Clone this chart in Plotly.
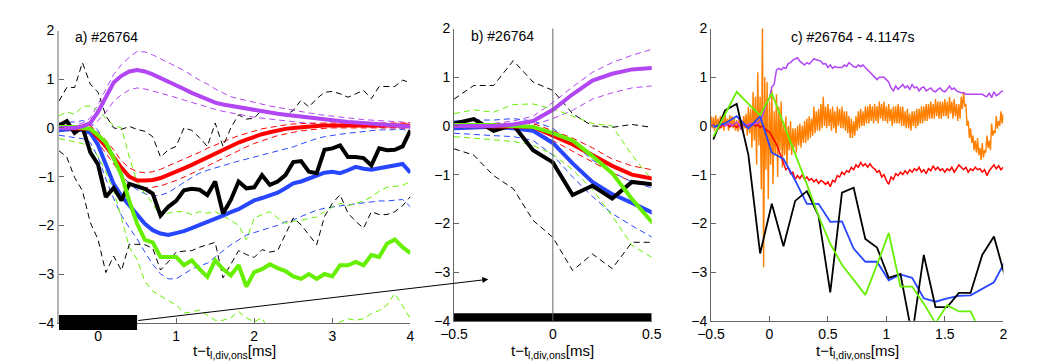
import numpy as np
import plotly.graph_objects as go

# ---------------- data ----------------
# panels a) and b): averaged signals, 0.1 ms sampling
t_a = np.round(np.arange(-0.5, 4.0001, 0.1), 2)

purple_mean = [0.0, 0.0, 0.0, 0.03, 0.1, 0.33, 0.65, 0.93, 1.07, 1.16,
               1.19, 1.16, 1.1, 1.03, 0.96, 0.88, 0.8, 0.72, 0.65, 0.58,
               0.52, 0.48, 0.45, 0.42, 0.39, 0.36, 0.34, 0.31, 0.29, 0.27,
               0.25, 0.23, 0.21, 0.19, 0.17, 0.15, 0.13, 0.12, 0.11, 0.1,
               0.09, 0.08, 0.07, 0.06, 0.05, 0.03]
purple_hi = [0.05, 0.05, 0.05, 0.1, 0.2, 0.48, 0.8, 1.1, 1.3, 1.45,
             1.57, 1.56, 1.5, 1.42, 1.35, 1.27, 1.18, 1.08, 0.98, 0.9,
             0.8, 0.72, 0.64, 0.6, 0.56, 0.52, 0.49, 0.45, 0.42, 0.39,
             0.36, 0.33, 0.3, 0.28, 0.26, 0.24, 0.22, 0.2, 0.18, 0.17,
             0.16, 0.15, 0.14, 0.13, 0.12, 0.11]
purple_lo = [-0.05, -0.05, -0.05, -0.02, 0.02, 0.15, 0.32, 0.55, 0.68, 0.78,
             0.82, 0.8, 0.76, 0.72, 0.67, 0.62, 0.57, 0.52, 0.47, 0.42,
             0.38, 0.34, 0.31, 0.27, 0.25, 0.22, 0.2, 0.18, 0.16, 0.14,
             0.12, 0.11, 0.1, 0.08, 0.07, 0.06, 0.05, 0.04, 0.03, 0.02,
             0.02, 0.01, 0.0, 0.0, -0.01, -0.02]

red_mean = [0.0, 0.0, 0.0, 0.0, -0.02, -0.2, -0.38, -0.6, -0.82, -1.0,
            -1.08, -1.08, -1.07, -1.03, -0.97, -0.9, -0.83, -0.76, -0.68, -0.6,
            -0.52, -0.45, -0.37, -0.3, -0.24, -0.18, -0.13, -0.09, -0.05, -0.02,
            0.0, 0.02, 0.03, 0.04, 0.05, 0.05, 0.05, 0.05, 0.05, 0.05,
            0.05, 0.05, 0.05, 0.05, 0.05, 0.05]
red_hi = [0.05, 0.05, 0.05, 0.05, 0.05, -0.1, -0.25, -0.45, -0.68, -0.82,
          -0.9, -0.92, -0.9, -0.85, -0.78, -0.72, -0.65, -0.57, -0.5, -0.42,
          -0.35, -0.28, -0.22, -0.16, -0.11, -0.06, -0.02, 0.01, 0.04, 0.06,
          0.08, 0.09, 0.1, 0.1, 0.1, 0.1, 0.1, 0.1, 0.1, 0.1,
          0.1, 0.1, 0.1, 0.1, 0.1, 0.1]
red_lo = [-0.05, -0.05, -0.05, -0.05, -0.08, -0.3, -0.52, -0.75, -0.96, -1.15,
          -1.22, -1.23, -1.22, -1.19, -1.14, -1.08, -1.01, -0.94, -0.86, -0.78,
          -0.7, -0.62, -0.54, -0.46, -0.39, -0.32, -0.26, -0.21, -0.16, -0.12,
          -0.09, -0.06, -0.04, -0.02, -0.01, 0.0, 0.0, 0.0, 0.0, 0.0,
          0.0, 0.0, 0.0, 0.0, 0.0, 0.0]

blue_mean = [-0.05, -0.03, -0.02, -0.05, -0.1, -0.35, -0.77, -1.15, -1.4, -1.58,
             -1.78, -1.97, -2.1, -2.17, -2.2, -2.17, -2.12, -2.06, -2.0, -1.93,
             -1.86, -1.8, -1.73, -1.67, -1.58, -1.49, -1.44, -1.38, -1.33, -1.24,
             -1.14, -1.1, -1.04, -0.98, -0.92, -0.9, -0.93, -0.87, -0.8, -0.84,
             -0.86, -0.83, -0.8, -0.78, -0.74, -0.92]
blue_hi = [0.1, 0.12, 0.12, 0.15, 0.1, -0.05, -0.35, -0.7, -0.95, -1.15,
           -1.27, -1.35, -1.4, -1.38, -1.33, -1.22, -1.12, -1.02, -0.93, -0.87,
           -0.82, -0.77, -0.73, -0.68, -0.64, -0.6, -0.56, -0.52, -0.47, -0.43,
           -0.39, -0.33, -0.27, -0.22, -0.18, -0.15, -0.13, -0.11, -0.09, -0.07,
           -0.05, -0.04, -0.04, -0.03, -0.03, -0.08]
blue_lo = [-0.15, -0.18, -0.2, -0.22, -0.3, -0.6, -1.05, -1.45, -1.8, -2.05,
           -2.28, -2.55, -2.8, -3.0, -3.1, -3.1, -3.0, -2.9, -2.83, -2.78,
           -2.65, -2.52, -2.4, -2.3, -2.2, -2.15, -2.1, -2.05, -2.0, -1.93,
           -1.89, -1.82, -1.75, -1.69, -1.65, -1.62, -1.6, -1.58, -1.56, -1.54,
           -1.52, -1.5, -1.5, -1.48, -1.47, -1.62]

green_mean = [0.02, 0.03, 0.02, 0.0, -0.02, -0.15, -0.3, -0.62, -0.97, -1.5,
              -1.97, -2.3, -2.35, -2.65, -2.65, -2.65, -2.82, -2.72, -2.9, -3.06,
              -2.72, -2.9, -3.03, -2.82, -3.26, -2.96, -2.9, -2.8, -2.88, -2.94,
              -3.05, -3.1, -3.0, -3.1, -3.0, -3.05, -2.82, -2.82, -2.75, -2.82,
              -2.61, -2.65, -2.38, -2.29, -2.45, -2.57]
green_hi = [0.25, 0.33, 0.28, 0.44, 0.45, 0.35, 0.2, 0.05, 0.0, -0.6,
            -1.1, -1.35, -1.55, -1.83, -1.75, -1.72, -1.72, -1.78, -1.72, -1.75,
            -1.72, -1.8, -1.9, -2.0, -2.3, -1.85, -1.78, -1.72, -1.85, -1.96,
            -1.92, -1.9, -1.86, -1.83, -1.72, -1.62, -1.55, -1.6, -1.55, -1.5,
            -1.42, -1.3, -1.22, -1.2, -1.18, -1.1]
green_lo = [-0.22, -0.25, -0.28, -0.32, -0.4, -0.58, -0.9, -1.3, -1.85, -2.45,
            -2.7, -3.15, -3.35, -3.45, -3.55, -3.63, -3.8, -3.78, -3.74, -3.85,
            -3.95, -3.95, -3.9, -3.77, -3.9, -3.98, -3.9, -4.2, -4.3, -4.25,
            -4.3, -4.35, -4.3, -4.25, -4.2, -4.05, -3.98, -3.92, -3.95, -3.92,
            -3.81, -3.75, -3.64, -3.4, -3.65, -3.92]

black_mean = [0.05, 0.14, -0.1, 0.02, -0.5, -0.75, -1.42, -1.23, -1.49, -1.15,
              -1.2, -1.25, -1.35, -1.8, -1.62, -1.5, -1.28, -1.25, -1.27, -1.38,
              -1.1, -1.76, -1.48, -1.1, -1.24, -1.22, -0.97, -1.17, -1.1, -0.97,
              -0.7, -0.68, -0.9, -0.93, -0.45, -0.42, -0.36, -0.6, -0.6, -0.62,
              -0.77, -0.42, -0.46, -0.45, -0.38, -0.05]
black_hi = [0.55, 0.83, 0.83, 1.34, 0.9, 0.73, 0.25, 0.0, -0.03, 0.03,
            -0.03, -0.07, -0.18, -0.6, -0.45, -0.38, 0.0, -0.05, -0.2, -0.38,
            0.1, -0.38, 0.0, 0.27, 0.18, 0.2, 0.37, 0.3, 0.3, 0.25,
            0.36, 0.57, 0.43, 0.6, 0.73, 0.75, 0.7, 0.63, 0.7, 0.77,
            0.6, 0.85, 0.85, 0.85, 0.98, 0.93]
black_lo = [-0.47, -0.6, -1.02, -1.29, -1.94, -2.29, -2.97, -2.63, -2.93, -2.39,
            -2.39, -2.4, -2.47, -2.92, -2.75, -2.55, -2.53, -2.52, -2.45, -2.4,
            -2.35, -3.08, -2.8, -2.52, -2.6, -2.66, -2.5, -2.55, -2.52, -2.2,
            -1.85, -1.99, -2.2, -2.4, -1.82, -1.55, -1.37, -1.75, -1.92, -2.06,
            -1.72, -1.78, -1.78, -1.72, -1.6, -1.41]

# panel c): single event, coarse signals (0.1 ms)
t_c = np.round(-0.48 + 0.1 * np.arange(26), 2)
black_c = [-0.28, 0.32, 0.45, -0.6, -2.62, -1.6, -2.47, -1.54, -1.34, -1.85,
           -3.42, -1.37, -1.27, -2.32, -2.5, -3.12, -3.04, -4.3, -2.65, -3.72,
           -3.72, -3.43, -3.43, -2.65, -2.27, -3.14]
blue_c = [-0.02, 0.05, 0.2, -0.05, 0.2, -0.55, -0.68, -1.12, -1.6, -1.6,
          -1.97, -1.96, -2.52, -2.79, -2.79, -3.17, -3.05, -3.12, -3.54, -3.61,
          -3.54, -3.49, -3.48, -3.35, -3.21, -2.76]
green_c = [-0.22, 0.25, 0.7, 0.45, 0.22, 0.67, 0.05, -0.55, -1.2, -1.85,
           -2.42, -2.85, -3.15, -3.47, -2.85, -2.2, -3.3, -3.3, -3.65, -4.05,
           -3.68, -3.81, -3.81, -4.3, -4.5, -4.6]

# panel c): fast noisy signal, read as upper / lower excursions (0.01 ms apart)
orange_hi = [0.2, 0.18, 0.22, 0.15, 0.2, 0.18, 0.25, 0.15, 0.22, 0.2,
             0.15, 0.12, 0.15, 0.12, 0.2, 0.25, 0.4, 0.35, 0.7, 0.6,
             1.1, 0.6, 2.1, 1.0, 0.9, 0.5, 0.75, 0.3, 0.65, 0.4,
             0.5, 0.1, 0.2, 0.0, 0.1, -0.05, -0.05, 0.0, 0.05, 0.0,
             0.1, 0.15, 0.2, 0.15, 0.4, 0.3, 0.35, 0.45, 0.6, 0.4,
             0.45, 0.35, 0.4, 0.3, 0.4, 0.35, 0.4, 0.3, 0.3, 0.2,
             0.15, 0.1, 0.2, 0.3, 0.35, 0.3, 0.4, 0.4, 0.45, 0.4,
             0.45, 0.4, 0.5, 0.45, 0.5, 0.4, 0.45, 0.35, 0.4, 0.4,
             0.45, 0.4, 0.4, 0.3, 0.35, 0.25, 0.3, 0.3, 0.35, 0.35,
             0.4, 0.4, 0.45, 0.45, 0.5, 0.45, 0.55, 0.5, 0.5, 0.5,
             0.55, 0.5, 0.6, 0.5, 0.55, 0.45, 0.45, 0.6, 0.7, 0.45,
             0.1, -0.05, -0.2, -0.3, -0.25, -0.45, -0.35, -0.5, -0.2, -0.3,
             0.05, -0.1, 0.2, 0.1, 0.3, 0.25]
orange_lo = [-0.05, -0.1, 0.0, -0.08, -0.05, -0.1, 0.0, -0.1, -0.02, -0.05,
             -0.1, -0.12, -0.08, -0.12, -0.05, -0.2, -0.15, -0.45, -0.3, -0.8,
             -0.4, -1.3, -2.9, -0.9, -1.5, -0.8, -1.2, -0.6, -1.05, -0.5,
             -0.85, -0.6, -0.8, -0.5, -0.6, -0.45, -0.55, -0.4, -0.45, -0.35,
             -0.35, -0.3, -0.25, -0.2, -0.15, -0.1, -0.1, -0.05, 0.0, -0.05,
             0.0, -0.1, -0.05, -0.15, 0.0, -0.05, -0.05, -0.1, -0.15, -0.25,
             -0.25, -0.2, -0.1, -0.05, 0.0, 0.0, 0.05, 0.05, 0.1, 0.05,
             0.1, 0.05, 0.15, 0.1, 0.1, 0.05, 0.1, 0.0, 0.05, 0.05,
             0.05, 0.0, 0.0, -0.05, -0.05, -0.1, 0.0, -0.05, 0.0, 0.05,
             0.05, 0.1, 0.1, 0.15, 0.15, 0.15, 0.2, 0.15, 0.15, 0.2,
             0.2, 0.15, 0.25, 0.15, 0.2, 0.1, 0.15, 0.35, 0.4, 0.0,
             -0.25, -0.35, -0.5, -0.55, -0.6, -0.7, -0.65, -0.55, -0.45, -0.5,
             -0.2, -0.15, -0.05, 0.0, 0.05, 0.05]
orange_c = [v for pair in zip(orange_hi, orange_lo) for v in pair]
t_o = np.round(-0.5 + 0.01 * np.arange(len(orange_c)), 2)

# panel c): fast signals (0.02 ms)
red_c = [0.0, 0.03, -0.02, 0.02, -0.03, 0.02, 0.0, 0.03, -0.02, 0.02,
         0.0, -0.03, 0.02, 0.0, 0.03, -0.02, 0.02, 0.0, 0.03, 0.0,
         0.02, -0.03, 0.0, -0.05, -0.1, -0.12, -0.2, -0.3, -0.38, -0.5,
         -0.65, -0.8, -0.9, -0.85, -0.98, -0.95, -1.1, -1.02, -1.08, -1.0,
         -1.1, -1.05, -1.12, -1.08, -1.15, -1.1, -1.18, -1.12, -1.15, -1.2,
         -1.15, -1.25, -1.12, -1.15, -1.02, -1.05, -0.95, -1.0, -0.92, -0.95,
         -0.85, -0.9, -0.8, -0.85, -0.75, -0.82, -0.78, -0.85, -0.78, -0.85,
         -0.88, -0.95, -0.92, -1.05, -1.0, -1.12, -1.2, -1.05, -1.1, -0.98,
         -1.02, -0.95, -1.0, -0.92, -0.98, -0.9, -0.95, -0.88, -0.92, -0.85,
         -0.95, -0.9, -0.98, -0.88, -0.92, -0.82, -0.9, -0.85, -0.92, -0.88,
         -0.95, -0.88, -0.92, -0.85, -0.95, -0.88, -0.8, -0.85, -0.9, -0.85,
         -0.95, -0.88, -0.92, -0.85, -0.9, -0.88, -0.95, -0.9, -1.02, -0.92,
         -0.85, -0.8, -0.88, -0.82, -0.9, -0.85]
purple_c = [0.0, 0.02, -0.03, 0.03, 0.0, 0.05, 0.0, 0.03, 0.05, 0.0,
            0.05, 0.08, 0.02, -0.08, 0.05, 0.0, 0.03, 0.05, 0.02, 0.08,
            0.05, 0.1, 0.2, 0.35, 0.5, 0.55, 0.8, 0.85, 1.15, 1.18,
            1.15, 1.2, 1.18, 1.28, 1.3, 1.35, 1.38, 1.4, 1.33, 1.28,
            1.25, 1.3, 1.27, 1.32, 1.38, 1.36, 1.35, 1.33, 1.27, 1.28,
            1.2, 1.25, 1.18, 1.22, 1.2, 1.2, 1.2, 1.25, 1.22, 1.3,
            1.25, 1.22, 1.2, 1.25, 1.22, 1.25, 1.2, 1.15, 1.1, 1.05,
            1.0, 0.95, 1.0, 1.0, 1.0, 0.95, 0.9, 0.78, 0.72, 0.82,
            0.75, 0.8, 0.85, 0.78, 0.82, 0.75, 0.85, 0.78, 0.8, 0.72,
            0.78, 0.8, 0.72, 0.75, 0.78, 0.72, 0.7, 0.75, 0.78, 0.72,
            0.7, 0.75, 0.82, 0.75, 0.78, 0.72, 0.7, 0.68, 0.68, 0.65,
            0.65, 0.65, 0.65, 0.65, 0.65, 0.65, 0.65, 0.62, 0.6, 0.68,
            0.58, 0.7, 0.62, 0.65, 0.7, 0.72]
t_f = np.round(-0.5 + 0.02 * np.arange(len(red_c)), 2)

window_ms = [-0.5, 0.5]
y_ticks = [-4, -3, -2, -1, 0, 1, 2]
y_ticktext = ['\u22124', '\u22123', '\u22122', '\u22121', '0', '1', '2']
xa_ticks = [0, 1, 2, 3, 4]
xb_ticks = [-0.5, 0, 0.5]
xb_ticktext = ['\u22120.5', '0', '0.5']
xc_ticks = [-0.5, 0, 0.5, 1, 1.5, 2]
xc_ticktext = ['\u22120.5', '0', '0.5', '1', '1.5', '2']

# ---------------- style ----------------
PURPLE = '#B246F2'
RED = '#FF0000'
BLUE = '#2846FF'
GREEN = '#66F000'
BLACK = '#000000'
ORANGE = '#FF8000'
FONT = 'Liberation Sans'
OFF = 8                      # page body margin of the viewer
W, H = 1040 - OFF, 364 - OFF

fig = go.Figure()


def add(x, y, color, width, xa, ya, dash='solid'):
    fig.add_trace(go.Scatter(x=x, y=y, mode='lines',
                             line=dict(color=color, width=width, dash=dash),
                             xaxis=xa, yaxis=ya, showlegend=False,
                             hoverinfo='skip'))


groups = [(purple_mean, purple_hi, purple_lo, PURPLE),
          (red_mean, red_hi, red_lo, RED),
          (blue_mean, blue_hi, blue_lo, BLUE),
          (green_mean, green_hi, green_lo, GREEN),
          (black_mean, black_hi, black_lo, BLACK)]
thick_order = [(blue_mean, BLUE), (black_mean, BLACK), (red_mean, RED),
               (green_mean, GREEN), (purple_mean, PURPLE)]

for xa, ya in [('x', 'y'), ('x2', 'y2')]:
    for mean, hi, lo, col in groups:
        add(t_a, hi, col, 1, xa, ya, dash='6px,4px')
        add(t_a, lo, col, 1, xa, ya, dash='6px,4px')
    for mean, col in thick_order:
        add(t_a, mean, col, 4, xa, ya)

add(t_o, orange_c, ORANGE, 1.4, 'x3', 'y3')
add(t_f, red_c, RED, 1.5, 'x3', 'y3')
add(t_f, purple_c, PURPLE, 1.5, 'x3', 'y3')
add(t_c, blue_c, BLUE, 1.8, 'x3', 'y3')
add(t_c, black_c, BLACK, 1.8, 'x3', 'y3')
add(t_c, green_c, GREEN, 1.8, 'x3', 'y3')

# ---------------- layout ----------------
def px_x(p):
    return (p - OFF) / W


def px_y(p):
    return 1 - (p - OFF) / H


dom_a = [px_x(59), px_x(410.4)]
dom_b = [px_x(454), px_x(651.7)]
dom_c = [px_x(711), px_x(1003.3)]
ydom_a = [px_y(322.7), px_y(30.5)]
ydom_bc = [px_y(320.7), px_y(28.5)]

base = dict(showgrid=False, zeroline=False, ticks='inside', ticklen=5,
            tickcolor='#666666', tickfont=dict(family=FONT, size=14, color='black'),
            showline=True, linecolor='#666666', linewidth=1, fixedrange=True,
            automargin=False)

fig.update_layout(
    width=W, height=H, margin=dict(l=0, r=0, t=0, b=0, autoexpand=False),
    paper_bgcolor='white', plot_bgcolor='rgba(0,0,0,0)',
    font=dict(family=FONT, size=14, color='black'),
    xaxis=dict(base, domain=dom_a, range=[-0.5, 4], anchor='y',
               tickvals=xa_ticks, ticktext=[str(v) for v in xa_ticks]),
    yaxis=dict(base, domain=ydom_a, range=[-4, 2], anchor='x',
               tickvals=y_ticks, ticktext=y_ticktext,
               linecolor='#b4b4b4', linewidth=2),
    xaxis2=dict(base, domain=dom_b, range=[-0.5, 0.5], anchor='y2',
                tickvals=xb_ticks, ticktext=xb_ticktext),
    yaxis2=dict(base, domain=ydom_bc, range=[-4, 2], anchor='x2',
                tickvals=y_ticks, ticktext=y_ticktext),
    xaxis3=dict(base, domain=dom_c, range=[-0.5, 2], anchor='y3',
                tickvals=xc_ticks, ticktext=xc_ticktext),
    yaxis3=dict(base, domain=ydom_bc, range=[-4, 2], anchor='x3',
                tickvals=y_ticks, ticktext=y_ticktext),
)

# time-window bars and t=0 marker
fig.add_shape(type='rect', xref='x', yref='paper', x0=window_ms[0], x1=window_ms[1],
              y0=px_y(330), y1=px_y(315), fillcolor='black', line=dict(width=0),
              layer='above')
fig.add_shape(type='rect', xref='x2', yref='paper', x0=window_ms[0], x1=window_ms[1],
              y0=px_y(321), y1=px_y(313.3), fillcolor='black', line=dict(width=0),
              layer='above')
fig.add_shape(type='line', xref='x2', yref='y2 domain', x0=0, x1=0, y0=0, y1=1,
              line=dict(color='#666666', width=1), layer='above')

# arrow from window bar (a) to zoom panel (b)
fig.add_annotation(xref='paper', yref='paper', x=px_x(488.3), y=px_y(279.3),
                   ax=136.7 - 488.3, ay=320.7 - 279.3, axref='pixel', ayref='pixel',
                   text='', showarrow=True, arrowhead=2, arrowsize=1.2,
                   arrowwidth=1, arrowcolor='black')

# panel titles
for txt, xl, yc in [('a) #26764', 73, 36.5), ('b) #26764', 469.3, 35.5),
                    ('c) #26764 - 4.1147s', 789, 36.5)]:
    fig.add_annotation(xref='paper', yref='paper', x=px_x(xl), y=px_y(yc),
                       xanchor='left', yanchor='middle', text=txt, showarrow=False,
                       font=dict(family=FONT, size=14, color='black'))

# x-axis titles
for dom in [dom_a, dom_b, dom_c]:
    fig.add_annotation(xref='paper', yref='paper', x=(dom[0] + dom[1]) / 2,
                       y=px_y(351), xanchor='center', yanchor='middle',
                       text='t\u2212t<sub>l,div,ons</sub>[ms]', showarrow=False,
                       font=dict(family=FONT, size=15, color='black'))

fig.write_html('out.html')
